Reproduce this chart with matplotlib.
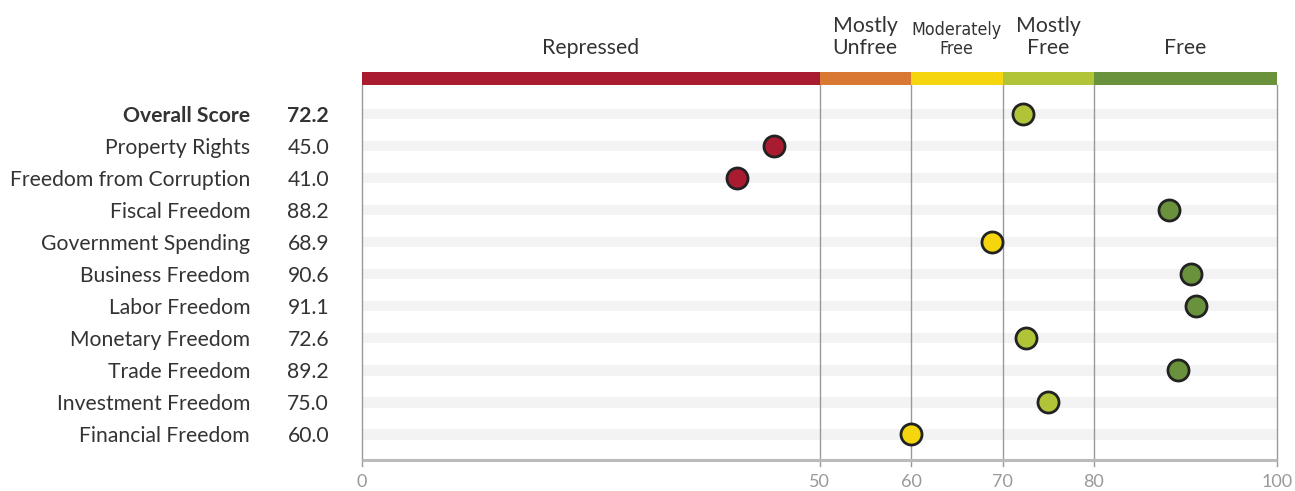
import matplotlib
matplotlib.use("Agg")
import matplotlib.pyplot as plt
from matplotlib.transforms import blended_transform_factory

plt.rcParams['font.family'] = ['Lato', 'DejaVu Sans']

categories = ["Overall Score", "Property Rights", "Freedom from Corruption", "Fiscal Freedom",
              "Government Spending", "Business Freedom", "Labor Freedom", "Monetary Freedom",
              "Trade Freedom", "Investment Freedom", "Financial Freedom"]
scores = [72.2, 45.0, 41.0, 88.2, 68.9, 90.6, 91.1, 72.6, 89.2, 75.0, 60.0]

band_edges = [0, 50, 60, 70, 80, 100]
band_names = ["Repressed", "Mostly\nUnfree", "Moderately\nFree", "Mostly\nFree", "Free"]
band_colors = ["#a91b2f", "#d97832", "#f4d50e", "#b1c337", "#6a913b"]
tick_values = [0, 50, 60, 70, 80, 100]


def color_for(v):
    for i in range(len(band_colors)):
        if band_edges[i] <= v < band_edges[i + 1] or (i == len(band_colors) - 1 and v >= band_edges[-2]):
            return band_colors[i]
    return band_colors[-1]


fig = plt.figure(figsize=(12.95, 4.91), dpi=100)
ax = fig.add_axes([362 / 1295, 1 - 460 / 491, 915 / 1295, (460 - 72) / 491])
n = len(categories)
y_top = -1.3125
band_bottom = -0.906
y_bottom = 10.81
ax.set_xlim(0, 100)
ax.set_ylim(y_bottom, y_top)
ax.axis('off')

# stripes
for i in range(n):
    ax.fill_between([0, 100], i - 0.17, i + 0.17, color="#f3f3f3", lw=0, zorder=1)

# vertical lines
for t in tick_values:
    ax.plot([t, t], [band_bottom, y_bottom + 0.2], color="#999999", lw=1.0, zorder=2, clip_on=False)

# baseline
ax.plot([0, 100], [y_bottom, y_bottom], color="#bbbbbb", lw=2.2, zorder=2, clip_on=False,
        solid_capstyle='butt')

# color band
for i in range(len(band_colors)):
    ax.fill_between([band_edges[i], band_edges[i + 1]], y_top, band_bottom,
                    color=band_colors[i], lw=0, zorder=3)

# band names
trans_top = blended_transform_factory(ax.transData, fig.transFigure)
for i, name in enumerate(band_names):
    xc = (band_edges[i] + band_edges[i + 1]) / 2
    if name.startswith("Moderately"):
        ax.text(xc, 1 - 54 / 491, name, transform=trans_top, ha='center', va='baseline',
                fontsize=12.8, color="#333333", linespacing=1.05,
                family=['DejaVu Sans'], fontstretch='condensed')
    else:
        ax.text(xc, 1 - 54 / 491, name, transform=trans_top, ha='center', va='baseline',
                fontsize=15.3, color="#333333", linespacing=1.12)

# dots
for i, v in enumerate(scores):
    ax.scatter([v], [i], s=230, color=color_for(v), edgecolor="#222222", linewidth=2.0, zorder=5)

# labels
lab_tr = blended_transform_factory(ax.transAxes, ax.transData)
for i, (c, v) in enumerate(zip(categories, scores)):
    w = 'bold' if i == 0 else 'normal'
    ax.text(-0.1224, i, c, transform=lab_tr,
            ha='right', va='center_baseline', fontsize=15.2, color="#333333", weight=w)
    ax.text(-0.036, i, f"{v:.1f}", transform=lab_tr,
            ha='right', va='center_baseline', fontsize=15.2, color="#333333", weight=w)

# tick labels
for t in tick_values:
    ax.text(t, 1 - 482 / 491, str(t), transform=trans_top, ha='center', va='center',
            fontsize=13, color="#999999")

fig.savefig("out.png", dpi=100)
